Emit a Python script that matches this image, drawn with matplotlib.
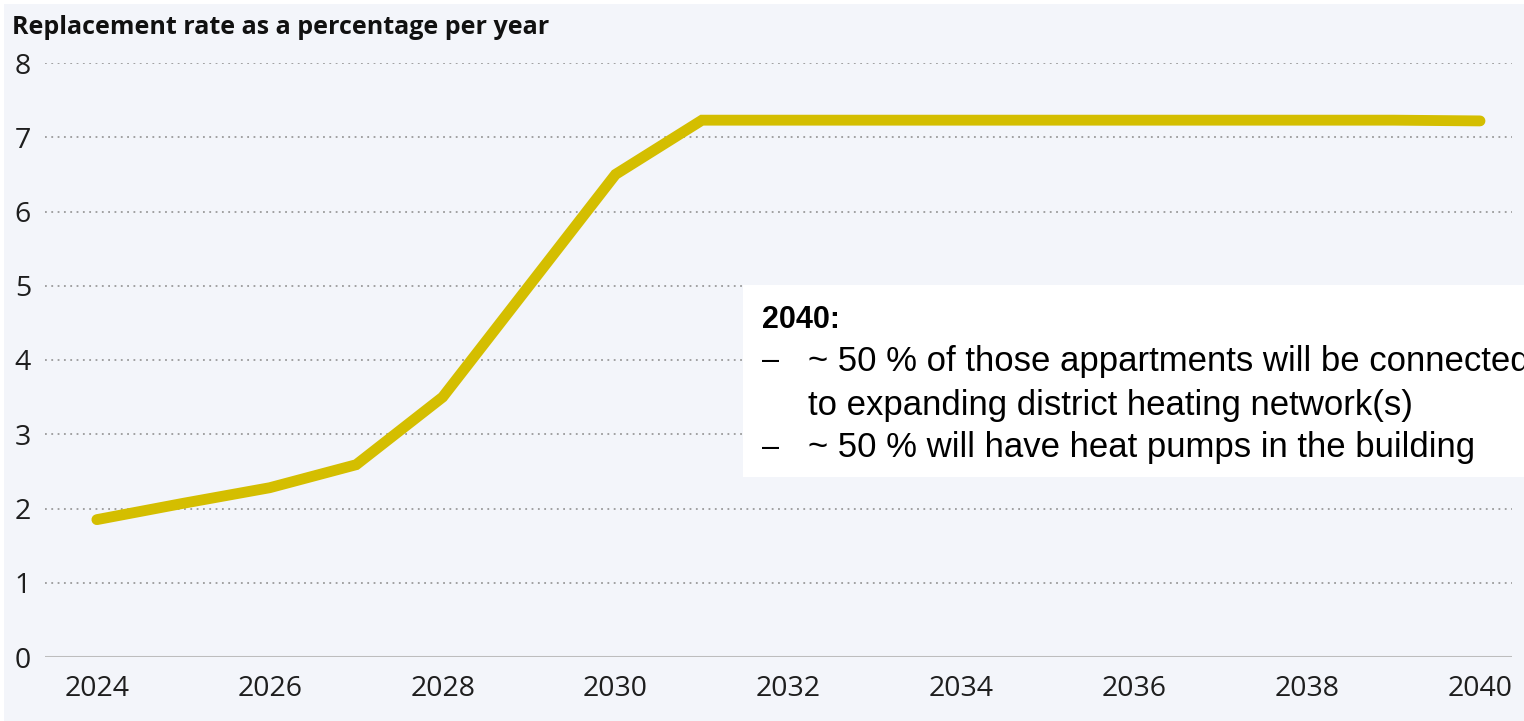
import matplotlib
matplotlib.use("Agg")
import matplotlib.pyplot as plt
from matplotlib.patches import Rectangle
from matplotlib import font_manager

years = [2024, 2025, 2026, 2027, 2028, 2029, 2030, 2031, 2032, 2033, 2034, 2035, 2036, 2037, 2038, 2039, 2040]
rate = [1.85, 2.07, 2.28, 2.59, 3.5, 5.0, 6.5, 7.23, 7.23, 7.23, 7.23, 7.23, 7.23, 7.23, 7.23, 7.23, 7.22]
yticks = [0, 1, 2, 3, 4, 5, 6, 7, 8]
xticks = [2024, 2026, 2028, 2030, 2032, 2034, 2036, 2038, 2040]
title = "Replacement rate as a percentage per year"
note_head = "2040:"
note_lines = ["~ 50 % of those appartments will be connected",
              "to expanding district heating network(s)",
              "~ 50 % will have heat pumps in the building"]

names = {f.name for f in font_manager.fontManager.ttflist}
main_font = "Open Sans" if "Open Sans" in names else "DejaVu Sans"
note_font = ["Liberation Sans", "DejaVu Sans"]

W, H = 1524, 721
fig = plt.figure(figsize=(W / 100, H / 100), dpi=100)
fig.patch.set_facecolor("white")
bg = "#f3f5fa"
fig.patches.append(Rectangle((4 / W, 0), 1, 1 - 4 / H, transform=fig.transFigure, facecolor=bg, edgecolor="none", zorder=-10))

ax = fig.add_axes([45 / W, (H - 657) / H, (1512 - 45) / W, (657 - 63) / H])
ax.set_facecolor("none")
ax.set_xlim(2023.4, 2040.37)
ax.set_ylim(0, 8)
for s in ax.spines.values():
    s.set_visible(False)
for y in yticks[1:]:
    ax.axhline(y, color="#9a9a9a", linestyle=(0, (1, 2.5)), linewidth=1.3, zorder=1)
ax.axhline(0, color="#bdbdbd", linewidth=2.2, zorder=1)

ax.plot(years, rate, color="#d4be00", linewidth=7.8, solid_capstyle="round", solid_joinstyle="miter", clip_on=False, zorder=3)

ax.set_yticks(yticks)
ax.set_xticks(xticks)
ax.set_xticklabels([str(x) for x in xticks])
ax.tick_params(axis="both", length=0, labelsize=20.5, labelcolor="#1e1e1e")
ax.tick_params(axis="y", pad=10)
ax.tick_params(axis="x", pad=13)
for lab in ax.get_xticklabels() + ax.get_yticklabels():
    lab.set_family(main_font)

fig.text(12 / W, 1 - 28 / H, title, fontsize=18, fontweight="bold", family=main_font, color="#111111", va="center", ha="left")

# annotation box
fig.patches.append(Rectangle((743 / W, (H - 477) / H), (W - 743) / W, (477 - 285) / H, transform=fig.transFigure, facecolor="white", edgecolor="none", zorder=5))
fig.text(762 / W, 1 - 320 / H, note_head, fontsize=22, fontweight="bold", family=note_font, color="black", va="center", ha="left", zorder=6)
ys = [361, 405, 448]
for i, (t, y) in enumerate(zip(note_lines, ys)):
    if i != 1:
        fig.text(762 / W, 1 - y / H, "–", fontsize=22, family=note_font, color="black", va="center", ha="left", zorder=6)
    fig.text(808 / W, 1 - y / H, t, fontsize=25, family=note_font, color="black", va="center", ha="left", zorder=6)

fig.savefig("out.png", dpi=100, facecolor=fig.get_facecolor())
